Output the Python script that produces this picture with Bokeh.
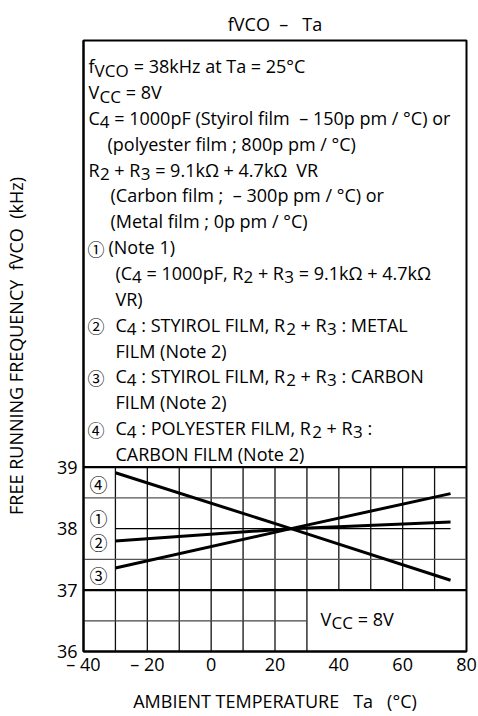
import re
from bokeh.plotting import figure
from bokeh.models import Range1d, FixedTicker, Label, LinearAxis, Title
from bokeh.embed import file_html
from bokeh.resources import INLINE

# ---------------- data ----------------
ta = [-30, 25, 75]                      # ambient temperature (degC)
f_curve1 = [38.00, 38.00, 38.00]        # (1) Note 1
f_curve2 = [37.80, 38.00, 38.11]        # (2) styirol / metal
f_curve3 = [37.36, 38.00, 38.57]        # (3) styirol / carbon
f_curve4 = [38.91, 38.00, 37.16]        # (4) polyester / carbon

curve_marks = ["④", "①", "②", "③"]
curve_mark_y = [38.72, 38.18, 37.78, 37.24]
curve_mark_x = [-35.3, -35.3, -35.3, -35.3]

yticks = [36, 37, 38, 39]
xticks = [-40, -20, 0, 20, 40, 60, 80]
xtick_labels = ["– 40", "– 20", "0", "20", "40", "60", "80"]

grid_v_full = [-30, -20, -10, 0, 10, 20, 30]
grid_v_upper = [40, 50, 60, 70]
grid_h_thin = [37.5, 38.5]
grid_h_bold = [37, 39]
grid_h_lower = [36.5]
grid_lower_right = 30
grid_top = 39
grid_mid = 37

NB = "\u00a0"
title_text = f"fVCO{NB} –{NB}{NB} Ta"
ylabel_text = f"FREE RUNNING FREQUENCY{NB} fVCO{NB} (kHz)"
xlabel_text = f"AMBIENT TEMPERATURE{NB} {NB}Ta{NB} {NB}(°C)"
vcc_parts = [("V", "n"), ("CC", "s"), (" = 8V", "n")]

note_lines = [
    (0, [("f", "n"), ("VCO", "s"), (" = 38kHz at Ta = 25°C", "n")]),
    (0, [("V", "n"), ("CC", "s"), (" = 8V", "n")]),
    (0, [("C", "n"), ("4", "s"), (" = 1000pF (Styirol film  – 150p pm / °C) or", "n")]),
    (1, [("(polyester film ; 800p pm / °C)", "n")]),
    (0, [("R", "n"), ("2", "s"), (" + R", "n"), ("3", "s"), (" = 9.1kΩ + 4.7kΩ  VR", "n")]),
    (2, [("(Carbon film ;  – 300p pm / °C) or", "n")]),
    (2, [("(Metal film ; 0p pm / °C)", "n")]),
    (4, [("①", "c"), ("(Note 1)", "n")]),
    (3, [("(C", "n"), ("4", "s"), (" = 1000pF, R", "n"), ("2", "s"), (" + R", "n"), ("3", "s"), (" = 9.1kΩ + 4.7kΩ", "n")]),
    (3, [("VR)", "n")]),
    (3, [("②", "c"), ("C", "n"), ("4", "s"), (" : STYIROL FILM, R", "n"), ("2", "s"), (" + R", "n"), ("3", "s"), (" : METAL", "n")]),
    (3, [("FILM (Note 2)", "n")]),
    (3, [("③", "c"), ("C", "n"), ("4", "s"), (" : STYIROL FILM, R", "n"), ("2", "s"), (" + R", "n"), ("3", "s"), (" : CARBON", "n")]),
    (3, [("FILM (Note 2)", "n")]),
    (3, [("④", "c"), ("C", "n"), ("4", "s"), (" : POLYESTER FILM, R", "n"), ("2", "s"), (" + R", "n"), ("3", "s"), (" :", "n")]),
    (3, [("CARBON FILM (Note 2)", "n")]),
]

# ---------------- layout ----------------
W, H = 478, 716
OFF = 0                                   # page offset of the canvas
FL, FR, FT, FB = 83, 466, 40, 651          # frame edges, page pixels
XMIN, XMAX = -40, 80
YMIN = 36
PX_PER_KHZ = 61.43
YMAX = YMIN + (FB - FT) / PX_PER_KHZ

FONT = "Open Sans"
CJK = "Noto Sans CJK JP"
MAIN = 18
SUB = 17
SUB_DROP = 4
CIRC = 17
CIRC_PLOT = 18

W_EM = {
    " ": .260, "(": .291, ")": .291, "+": .572, ",": .245, "-": .322, ".": .266,
    "/": .367, ":": .266, ";": .266, "=": .572, "°": .418, "–": .500, "Ω": .765,
    "A": .633, "B": .648, "C": .631, "E": .556, "F": .516, "G": .728, "H": .738,
    "I": .279, "K": .559, "L": .524, "M": .903, "N": .754, "O": .779, "P": .611,
    "Q": .779, "R": .635, "S": .549, "T": .553, "U": .738, "V": .617, "Y": .585,
    "a": .556, "b": .613, "c": .476, "d": .613, "e": .561, "f": .339, "h": .614,
    "i": .253, "k": .525, "l": .253, "m": .930, "n": .614, "o": .604, "p": .613,
    "r": .408, "s": .477, "t": .353, "y": .501, "z": .477,
}
for d in "0123456789":
    W_EM[d] = .572


def tw(s, size):
    return sum(W_EM.get(ch, .58) for ch in s) * size


def px2x(px):
    return XMIN + (px - FL) * (XMAX - XMIN) / (FR - FL)


def px2y(py):
    return YMIN + (FB - py) * (YMAX - YMIN) / (FB - FT)


labels = []


def put(xp, yp, text, font, size, align="left", baseline="alphabetic"):
    labels.append(Label(x=px2x(xp), y=px2y(yp), text=text, text_font=font,
                        text_font_size=f"{size}px", text_align=align,
                        text_baseline=baseline, text_color="black"))


def style(kind):
    if kind == "c":
        return CJK, CIRC, 0
    if kind == "s":
        return FONT, SUB, SUB_DROP
    return FONT, MAIN, 0


def chunks(text):
    """split where SVG would collapse spaces; return (text before chunk, chunk)"""
    return [(text[:m.start()], m.group()) for m in re.finditer(r"[^ ]+(?: [^ ]+)*", text)]


def run(segs, xp, yp):
    cur = xp
    for text, kind in segs:
        font, size, drop = style(kind)
        if kind == "c":
            put(cur, yp + drop, text, font, size)
            cur += size
            continue
        for before, ch in chunks(text):
            put(cur + tw(before, size), yp + drop, ch, font, size)
        cur += tw(text, size)


# ---------------- figure ----------------
p = figure(width=W, height=H, output_backend="svg", toolbar_location=None,
           x_range=Range1d(XMIN, XMAX), y_range=Range1d(YMIN, YMAX),
           x_axis_location=None,
           min_border_left=FL - OFF, min_border_right=OFF + W - FR,
           min_border_top=FT - OFF, min_border_bottom=OFF + H - FB)
p.background_fill_color = "white"
p.border_fill_color = "white"
p.outline_line_color = "black"
p.outline_line_width = 2
p.xgrid.grid_line_color = None
p.ygrid.grid_line_color = None

p.title = Title(text=title_text, align="center", text_font=FONT, text_font_size=f"{MAIN}px",
                text_font_style="normal", text_color="black", standoff=9)

xax = LinearAxis(ticker=FixedTicker(ticks=xticks),
                 major_label_overrides={v: t for v, t in zip(xticks, xtick_labels)},
                 axis_label=xlabel_text)
p.add_layout(xax, "below")
yax = p.yaxis[0]
yax.ticker = FixedTicker(ticks=yticks)
yax.axis_label = ylabel_text

for ax in (yax, xax):
    ax.axis_line_width = 2
    ax.axis_line_color = "black"
    ax.major_tick_line_color = None
    ax.minor_tick_line_color = None
    ax.major_tick_out = 0
    ax.major_tick_in = 0
    ax.minor_tick_out = 0
    ax.minor_tick_in = 0
    ax.major_label_text_font = FONT
    ax.major_label_text_font_size = f"{MAIN}px"
    ax.major_label_text_color = "black"
    ax.axis_label_text_font = FONT
    ax.axis_label_text_font_size = f"{MAIN}px"
    ax.axis_label_text_font_style = "normal"
    ax.axis_label_text_color = "black"
yax.major_label_standoff = 6
yax.axis_label_standoff = 26
xax.major_label_standoff = 0
xax.axis_label_standoff = 10

# grid
vx = grid_v_full + grid_v_upper
vy0 = [YMIN] * len(grid_v_full) + [grid_mid] * len(grid_v_upper)
p.segment(x0=vx, y0=vy0, x1=vx, y1=[grid_top] * len(vx), line_color="#111111", line_width=1.3)
p.segment(x0=[XMIN] * len(grid_h_thin), y0=grid_h_thin, x1=[XMAX] * len(grid_h_thin), y1=grid_h_thin,
          line_color="#555555", line_width=1.3)
p.segment(x0=[XMIN] * len(grid_h_lower), y0=grid_h_lower, x1=[grid_lower_right] * len(grid_h_lower),
          y1=grid_h_lower, line_color="#444444", line_width=1.3)
p.segment(x0=[XMIN] * len(grid_h_bold), y0=grid_h_bold, x1=[XMAX] * len(grid_h_bold), y1=grid_h_bold,
          line_color="black", line_width=2.2)

# curves
p.line(ta, f_curve1, line_color="black", line_width=1.4)
for fc in (f_curve2, f_curve3, f_curve4):
    p.line(ta, fc, line_color="black", line_width=3)

# curve markers
for t, xv, yv in zip(curve_marks, curve_mark_x, curve_mark_y):
    labels.append(Label(x=xv, y=yv, text=t, text_font=CJK, text_font_size=f"{CIRC_PLOT}px",
                        text_align="center", text_baseline="middle", text_color="black"))

# note text
BASE0, LSTEP = 65.7, 25.85
indents = {0: 88, 1: 107, 2: 110, 3: 115, 4: 108}
for i, (ind, segs) in enumerate(note_lines):
    yb = BASE0 + LSTEP * i
    if segs[0][1] == "c":
        font, size, drop = style("c")
        put(87, yb + 1, segs[0][0], font, size)
        run(segs[1:], indents[ind], yb)
    else:
        run(segs, indents[ind], yb)

# Vcc in plot
run(vcc_parts, 320, 618)

for lb in labels:
    p.add_layout(lb)

open("out.html", "w").write(file_html(p, INLINE))
